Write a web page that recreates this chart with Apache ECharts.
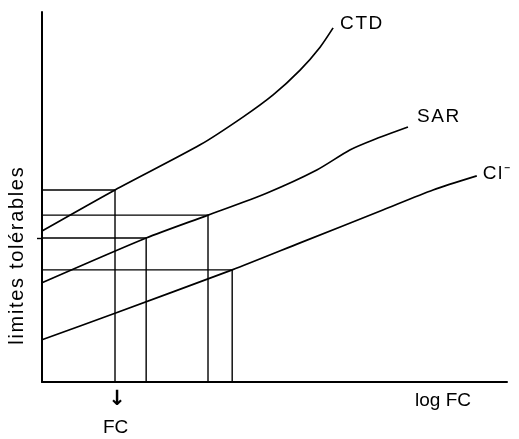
<!DOCTYPE html>
<html>
<head>
<meta charset="utf-8">
<script src="https://cdn.jsdelivr.net/npm/echarts@6/dist/echarts.min.js"></script>
<style>html,body{margin:0;padding:0;background:#fff}#c{width:519px;height:439px}</style>
</head>
<body>
<div id="c"></div>
<script>
// Curves (x: 0..100 along log FC, y: 0..100 along limites tolérables)
const ctd = [[0,40.8],[15.7,51.9],[34.0,64.1],[43.2,71.6],[49.7,77.6],[55.5,84.3],[59.8,90.5],[62.6,95.7]];
const sar = [[0,26.8],[22.4,38.9],[35.7,45.1],[48.4,51.1],[59.1,57.3],[66.2,62.7],[71.2,65.4],[78.7,68.9]];
const cl  = [[0,11.4],[15.7,18.6],[40.9,30.3],[55.5,37.6],[73.3,46.5],[84.1,51.9],[93.5,55.7]];
// Drop-line corners (point on a curve projected to both axes)
const drops = [[15.7,51.9],[22.4,38.9],[35.7,45.1],[40.9,30.3]];
const yTickValues = [38.9];
const seriesNames = ['CTD','SAR','Cl\u207B'];
const xTitle = 'log FC';
const yTitle = 'limites tolérables';
const fcLabel = 'FC';

const FONT = 'Liberation Sans';
const spaced = (s, sp) => s.split('').join(sp);
const HAIR = '\u200A';
const chart = echarts.init(document.getElementById('c'));

const curveStyle = {color:'#000', width:1.7};
function curve(name, data, offset){
  return {
    type:'line', name, data, smooth:0.25, showSymbol:false, symbol:'none',
    lineStyle:curveStyle, silent:true, animation:false,
    endLabel:{show:true, formatter:spaced(name, HAIR), color:'#000', fontSize:19, fontFamily:FONT, offset}
  };
}
const series = [
  curve(seriesNames[0], ctd, [-1,-4]),
  curve(seriesNames[1], sar, [1,-10]),
  curve(seriesNames[2], cl, [-2,-2])
];
drops.forEach(p => {
  series.push({
    type:'line', data:[[p[0],0],[p[0],p[1]],[0,p[1]]], showSymbol:false, symbol:'none',
    lineStyle:{color:'#000', width:1.4}, silent:true, animation:false
  });
});

chart.setOption({
  backgroundColor:'#fff',
  animation:false,
  grid:{left:42, right:12, top:12, bottom:57},
  xAxis:{type:'value', min:0, max:100,
    axisLine:{show:true, onZero:false, lineStyle:{color:'#000', width:2}},
    axisTick:{show:false}, axisLabel:{show:false}, splitLine:{show:false}},
  yAxis:{type:'value', min:0, max:100,
    axisLine:{show:true, onZero:false, lineStyle:{color:'#000', width:2}},
    axisTick:{show:true, customValues:yTickValues, length:5, lineStyle:{color:'#000', width:1.4}},
    axisLabel:{show:false}, splitLine:{show:false}},
  series,
  graphic:[
    {type:'text', left:415, top:391, style:{text:xTitle, fill:'#000', font:'19px '+FONT}},
    {type:'text', x:117, y:389, style:{text:'\u2193', fill:'#000', font:'bold 21px DejaVu Sans', textAlign:'center'}},
    {type:'text', left:103, top:418, style:{text:fcLabel, fill:'#000', font:'19px '+FONT}},
    {type:'text', x:17, y:256, rotation:Math.PI/2, style:{text:spaced(yTitle, HAIR), fill:'#000', font:'20px '+FONT, textAlign:'center', textVerticalAlign:'middle'}}
  ]
});
</script>
</body>
</html>
